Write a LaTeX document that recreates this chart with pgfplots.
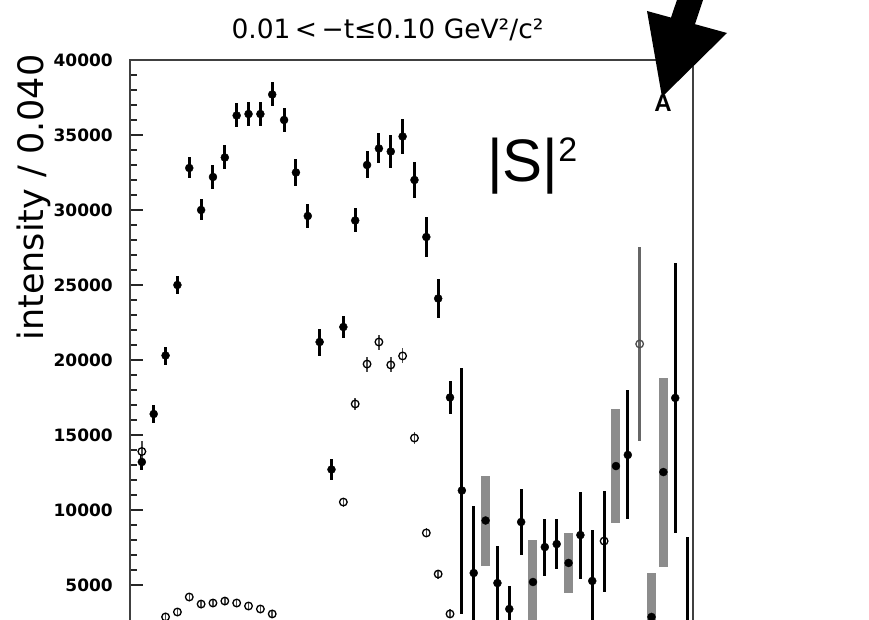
\documentclass[border=0pt]{standalone}
\usepackage{pgfplots}
\pgfplotsset{compat=1.18}
\usepackage{pgfplotstable}
\usepackage{fontspec}
\setmainfont{DejaVu Sans}
\newfontfamily\labelfont{Liberation Sans}

% |S|^2 intensity, filled points with thin black error bars
\pgfplotstableread{
m    y      ey
0.54 13200  500
0.58 16400  600
0.62 20300  600
0.66 25000  600
0.70 32800  700
0.74 30000  700
0.78 32200  800
0.82 33500  800
0.86 36300  800
0.90 36400  800
0.94 36400  800
0.98 37700  800
1.02 36000  800
1.06 32500  900
1.10 29600  800
1.14 21200  900
1.18 12700  700
1.22 22200  700
1.26 29300  800
1.30 33000  900
1.34 34100  1000
1.38 33900  1100
1.42 34900  1150
1.46 32000  1170
1.50 28200  1330
1.54 24100  1330
1.58 17500  1130
1.62 11300  8200
1.66 5800   4470
1.74 5130   2470
1.78 3400   1530
1.82 9200   2200
1.90 7530   1900
1.94 7730   1670
2.02 8330   2900
2.06 5270   3400
2.18 13670  4300
2.34 17470  9000
2.38 1500   6700
}\sblack

% filled points drawn with wide grey error bands
\pgfplotstableread{
m    y      ey
1.70 9300   3000
1.86 5200   2800
1.98 6470   2000
2.14 12930  3800
2.26 2870   2930
2.30 12530  6300
}\sgrey

% second solution, open points
\pgfplotstableread{
m    y      ey
0.54 13900  700
0.62 2870   250
0.66 3200   250
0.70 4200   250
0.74 3730   250
0.78 3800   250
0.82 3930   250
0.86 3800   250
0.90 3600   250
0.94 3400   250
0.98 3070   250
1.22 10530  300
1.26 17070  400
1.30 19730  500
1.34 21200  500
1.38 19670  500
1.42 20270  500
1.46 14800  400
1.50 8470   300
1.54 5730   300
1.58 3070   300
}\sopen

% open points with long error bars
\pgfplotstableread{
m    y      ey
2.10 7930   3370
}\sopenbar
\pgfplotstableread{
m    y      ey
2.22 21070  6470
}\sopengrey

\begin{document}
\begin{tikzpicture}
\useasboundingbox (0pt,0pt) rectangle (869pt,619pt);
\clip (0pt,0pt) rectangle (869pt,619pt);
\begin{axis}[
  at={(130pt,-41pt)}, anchor=south west,
  scale only axis, width=563pt, height=600pt,
  xmin=0.5, xmax=2.4, ymin=0, ymax=40000,
  xtick=\empty,
  ytick={5000,10000,15000,20000,25000,30000,35000,40000},
  scaled y ticks=false,
  /pgf/number format/assume math mode=true,
  /pgf/number format/1000 sep={},
  minor y tick num=4,
  ytick pos=left, tick align=inside,
  major tick length=13pt, minor tick length=7pt,
  every tick/.style={black!85, line width=1.4pt},
  axis line style={black!75, line width=1.8pt},
  yticklabel style={font=\bfseries\fontsize{17}{17}\selectfont, anchor=east, inner sep=0pt, xshift=-17pt},
  ylabel={intensity / 0.040},
  ylabel style={at={(axis description cs:-0.1545,0.7708)}, anchor=base,
    font=\fontsize{35}{35}\selectfont},
  title={0.01\,<\,−t≤0.10 GeV²/c²},
  title style={at={(axis description cs:0.4574,1.025)}, anchor=base, yshift=0pt,
    font=\fontsize{26.5}{26.5}\selectfont},
  clip=false,
]
% wide grey bands
\addplot[only marks, mark size=0pt,
  error bars/.cd, y dir=both, y explicit, error mark=none,
  error bar style={line width=9pt, draw=black!45}]
  table[x=m, y=y, y error=ey] {\sgrey};
% thin black error bars with filled markers
\addplot[only marks, mark=*, mark size=4pt, black,
  error bars/.cd, y dir=both, y explicit, error mark=none,
  error bar style={line width=3pt, draw=black}]
  table[x=m, y=y, y error=ey] {\sblack};
\addplot[only marks, mark=*, mark size=4pt, black]
  table[x=m, y=y] {\sgrey};
% open points
\addplot[only marks, mark=o, mark size=3.8pt, black, line width=1.3pt,
  mark options={fill=white},
  error bars/.cd, y dir=both, y explicit, error mark=none,
  error bar style={line width=1.5pt, draw=black!70}]
  table[x=m, y=y, y error=ey] {\sopen};
\addplot[only marks, mark=o, mark size=3.8pt, black, line width=1.3pt,
  mark options={fill=white},
  error bars/.cd, y dir=both, y explicit, error mark=none,
  error bar style={line width=3pt, draw=black}]
  table[x=m, y=y, y error=ey] {\sopenbar};
\addplot[only marks, mark=o, mark size=3.8pt, black!70, line width=1.3pt,
  mark options={fill=white},
  error bars/.cd, y dir=both, y explicit, error mark=none,
  error bar style={line width=2.5pt, draw=black!60}]
  table[x=m, y=y, y error=ey] {\sopengrey};
\end{axis}
% wave label and panel letter
\node[anchor=base west, inner sep=0pt, font=\labelfont\fontsize{60}{60}\selectfont]
  at (487pt,437pt) {|S|\raisebox{20pt}{\fontsize{34}{34}\selectfont 2}};
\node[anchor=base, inner sep=0pt, font=\labelfont\fontsize{24}{24}\selectfont\bfseries]
  at (663pt,507pt) {A};
% pointer arrow
\fill[black] (680.3pt,629pt) -- (706.3pt,629pt) -- (695pt,594.8pt) -- (727pt,586pt)
  -- (662pt,522pt) -- (647pt,608pt) -- (671pt,601.4pt) -- cycle;
\end{tikzpicture}
\end{document}
